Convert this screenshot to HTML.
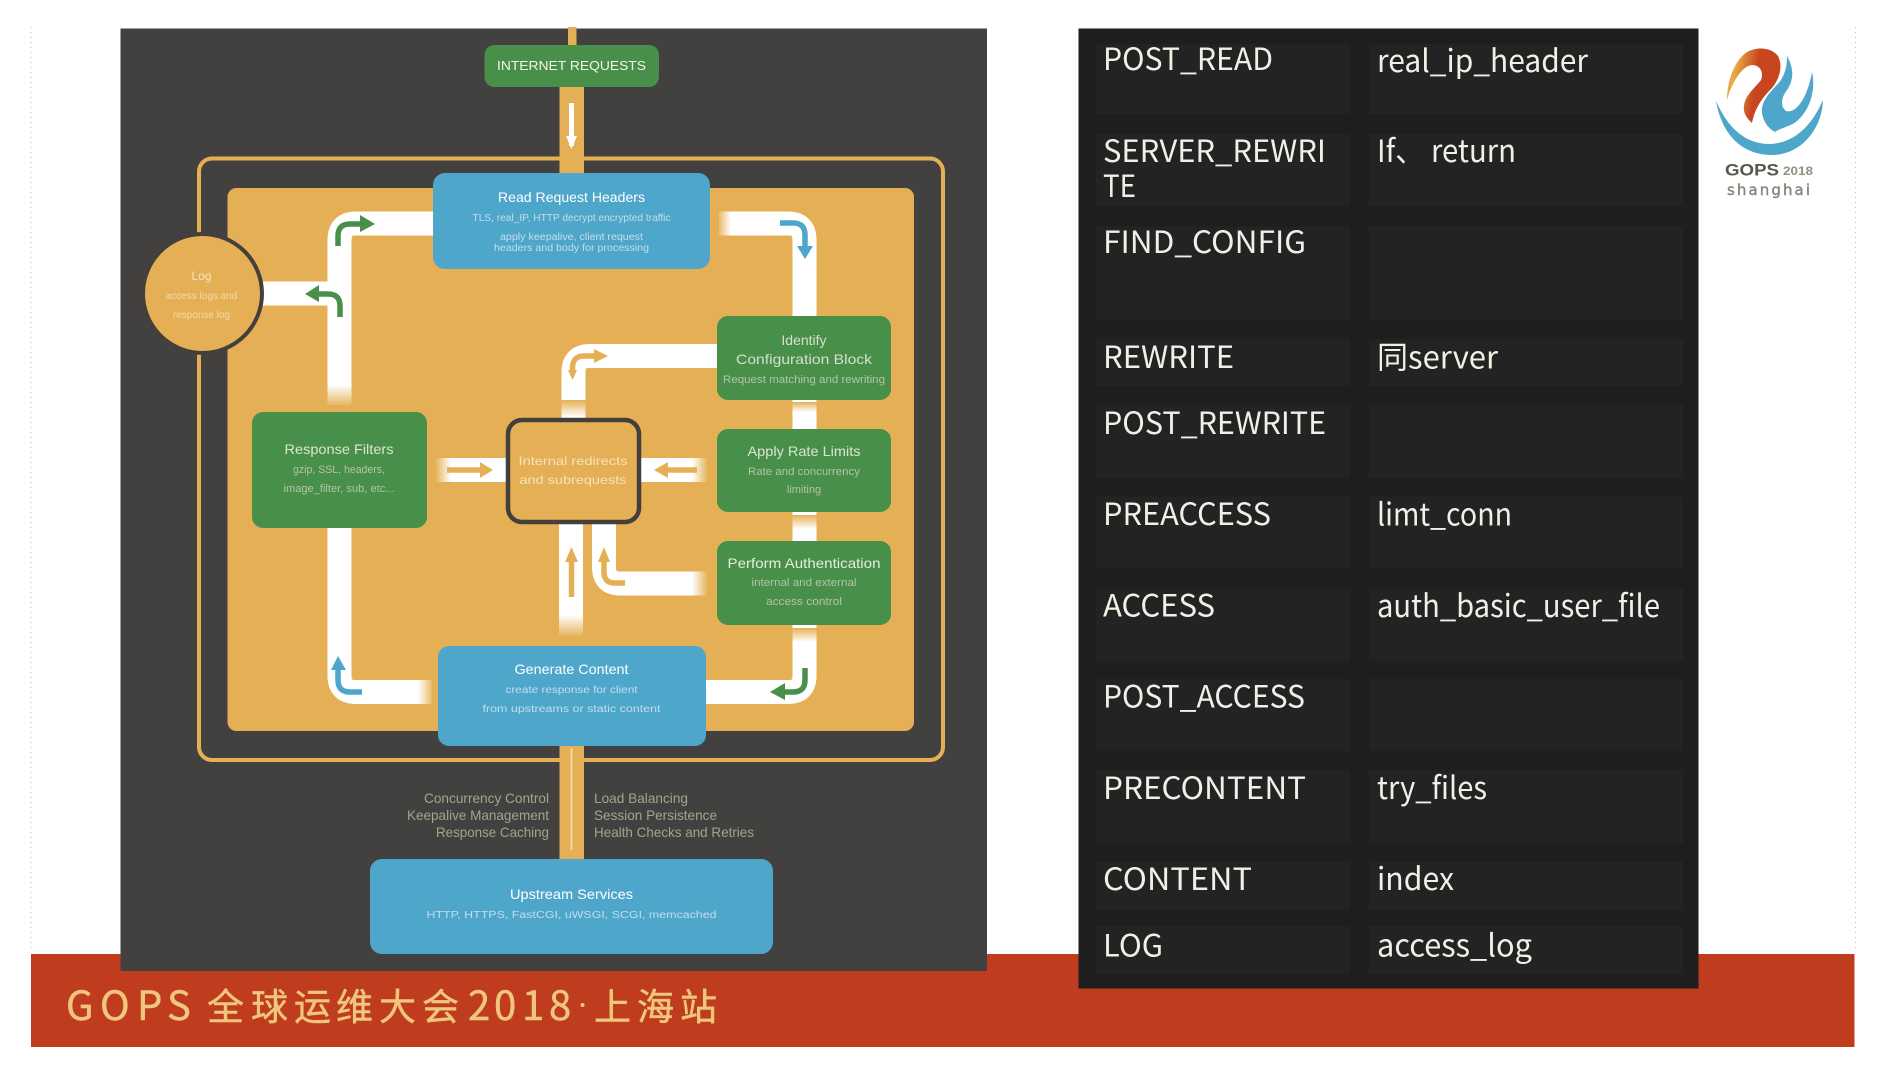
<!DOCTYPE html>
<html><head><meta charset="utf-8"><style>
html,body{margin:0;padding:0;background:#fff;width:1886px;height:1072px;overflow:hidden}
svg{display:block}
.s{font-family:"Liberation Sans",sans-serif;text-anchor:middle}
.h{font-size:14px;fill:#fff}
.g{font-size:11px;fill:#b3c4a6}
.b{font-size:10px;fill:#dcecf2;fill-opacity:.8}
.t{font-family:"Noto Sans CJK SC","Liberation Sans",sans-serif;font-size:31px;fill:#eef1e6}
.w{fill:none;stroke:#fff;stroke-width:24}
.a{fill:none;stroke-width:5.500}
.side{font-family:"Liberation Sans",sans-serif;font-size:14px;fill:#a2a58b}
.ti{font-family:"Noto Sans CJK SC","Liberation Sans",sans-serif;fill:#efc67c;stroke:#efc67c;stroke-width:.5}
</style></head><body>
<svg width="1886" height="1072" viewBox="0 0 1886 1072" xmlns="http://www.w3.org/2000/svg">
<defs>
<linearGradient id="fd" x1="0" y1="0" x2="0" y2="1"><stop offset="0" stop-color="#e5b055" stop-opacity="0"/><stop offset="1" stop-color="#e5b055"/></linearGradient>
<linearGradient id="fu" x1="0" y1="1" x2="0" y2="0"><stop offset="0" stop-color="#e5b055" stop-opacity="0"/><stop offset="1" stop-color="#e5b055"/></linearGradient>
<linearGradient id="fr" x1="0" y1="0" x2="1" y2="0"><stop offset="0" stop-color="#e5b055" stop-opacity="0"/><stop offset="1" stop-color="#e5b055"/></linearGradient>
<linearGradient id="fl" x1="1" y1="0" x2="0" y2="0"><stop offset="0" stop-color="#e5b055" stop-opacity="0"/><stop offset="1" stop-color="#e5b055"/></linearGradient>
<linearGradient id="fl2" x1="0" y1="0" x2="1" y2="0.2"><stop offset="0.2" stop-color="#e8a845"/><stop offset="0.6" stop-color="#c8451f"/></linearGradient>
</defs>
<rect width="1886" height="1072" fill="#fff"/>
<path d="M31 27V952M1855.5 27V952" stroke="#bbb" stroke-width="1" stroke-dasharray="1 4" fill="none"/>
<rect x="31" y="954" width="1823.500" height="93" fill="#bf3d1e"/>
<rect x="120.500" y="28.500" width="866.500" height="942.500" fill="#434140"/>
<rect x="199" y="158.500" width="744" height="601.500" rx="13" fill="none" stroke="#e5b055" stroke-width="4"/>
<rect x="227.500" y="188" width="686.500" height="543" rx="9" fill="#e5b055"/>
<rect x="568" y="27" width="8.500" height="18" fill="#e5b055"/>
<rect x="559.500" y="87" width="24.500" height="86" fill="#e5b055"/>
<path d="M571.500 103V146" stroke="#fff" stroke-width="5" fill="none"/><path d="M566 136H577L571.500 149Z" fill="#fff"/>
<rect x="559.500" y="745" width="24.500" height="115" fill="#e5b055"/>
<path d="M571.500 748V850" stroke="#f3d9a8" stroke-width="2" fill="none"/>
<g class="w">
<path d="M433 223.500H356Q339.500 223.500 339.500 240V405"/>
<path d="M262 293.500H325Q339.500 293.500 339.500 308V340"/>
<path d="M719 223.500H788Q804.500 223.500 804.500 240V316"/>
<path d="M717 356H590Q573.500 356 573.500 372V419"/>
<path d="M804.500 400V429"/>
<path d="M804.500 512V541"/>
<path d="M804.500 625V676Q804.500 692 788 692H706"/>
<path d="M339.500 528V676Q339.500 692 356 692H432"/>
<path d="M436 470H506"/>
<path d="M641 470H707"/>
<path d="M571 523V636"/>
<path d="M604 523V567Q604 583.500 620 583.500H707"/>
</g>
<rect x="322" y="385" width="35" height="22" fill="url(#fd)"/>
<rect x="556" y="615" width="30" height="22" fill="url(#fd)"/>
<rect x="556" y="400" width="34" height="17" fill="url(#fu)"/>
<rect x="788" y="515" width="34" height="14" fill="url(#fu)"/>
<rect x="788" y="628" width="34" height="14" fill="url(#fu)"/>
<rect x="788" y="402" width="34" height="10" fill="url(#fu)"/>
<rect x="717" y="208" width="14" height="32" fill="url(#fl)"/>
<rect x="418" y="676" width="16" height="32" fill="url(#fr)"/>
<rect x="692" y="567" width="16" height="34" fill="url(#fr)"/>
<rect x="435" y="454" width="16" height="32" fill="url(#fl)"/>
<rect x="692" y="454" width="16" height="32" fill="url(#fr)"/>
<circle cx="202.500" cy="293.500" r="59.500" fill="#e5b055" stroke="#433f3d" stroke-width="4"/>
<rect x="484.500" y="45" width="174.500" height="42" rx="10" fill="#488f4a"/>
<rect x="433" y="173" width="277" height="96" rx="12" fill="#4fa6cb"/>
<rect x="717" y="316" width="174" height="84" rx="11" fill="#488f4a"/>
<rect x="717" y="429" width="174" height="83" rx="11" fill="#488f4a"/>
<rect x="717" y="541" width="174" height="84" rx="11" fill="#488f4a"/>
<rect x="252" y="412" width="175" height="116" rx="11" fill="#488f4a"/>
<rect x="438" y="646" width="268" height="100" rx="11" fill="#4fa6cb"/>
<rect x="370" y="859" width="403" height="95" rx="12" fill="#4fa6cb"/>
<rect x="508" y="420" width="131" height="102" rx="14" fill="none" stroke="#433f3d" stroke-width="4.500"/>
<path class="a" stroke="#488f4a" d="M338 246V236Q338 224 350 224H362"/><path d="M360 215L375 224L360 232Z" fill="#488f4a"/>
<path class="a" stroke="#488f4a" d="M340 317V306Q340 294 328 294H318"/><path d="M319 285L305 294L319 302Z" fill="#488f4a"/>
<path class="a" stroke="#4fa6cb" d="M780 223H793Q805 223 805 235V248"/><path d="M797 246H813L805 259Z" fill="#4fa6cb"/>
<path class="a" stroke="#e5b055" d="M572.500 372V368Q572.500 356 584 356H596"/><path d="M568 370L577 370L572.500 380ZM594 349L608 356L594 363Z" fill="#e5b055"/>
<path class="a" stroke="#e5b055" d="M447 470H482"/><path d="M480 462L493 470L480 478Z" fill="#e5b055"/>
<path class="a" stroke="#e5b055" d="M697 470H666"/><path d="M668 462L654 470L668 478Z" fill="#e5b055"/>
<path class="a" stroke="#e5b055" d="M571.500 597V560"/><path d="M565 562L571.500 547L578 562Z" fill="#e5b055"/>
<path class="a" stroke="#e5b055" d="M625 583H615Q604 583 604 572V560"/><path d="M598 562L604 547L610 562Z" fill="#e5b055"/>
<path class="a" stroke="#4fa6cb" d="M362 692H350Q338 692 338 680V668"/><path d="M331 670L338 656L346 670Z" fill="#4fa6cb"/>
<path class="a" stroke="#488f4a" d="M805 668V680Q805 692 793 692H783"/><path d="M785 683L770 692L785 700Z" fill="#488f4a"/>
<g class="s">
<text x="571.500" y="70" font-size="13" fill="#f2f5ee" textLength="149" lengthAdjust="spacingAndGlyphs">INTERNET REQUESTS</text>
<text x="571.500" y="202" class="h" textLength="147" lengthAdjust="spacingAndGlyphs">Read Request Headers</text>
<text x="571.500" y="221" class="b" textLength="198" lengthAdjust="spacingAndGlyphs">TLS, real_IP, HTTP decrypt encrypted traffic</text>
<text x="571.500" y="240" class="b" textLength="143" lengthAdjust="spacingAndGlyphs">apply keepalive, client request</text>
<text x="571.500" y="251" class="b" textLength="155" lengthAdjust="spacingAndGlyphs">headers and body for processing</text>
<text x="201.500" y="280" font-size="12" fill="#f4e3bd">Log</text>
<text x="201.500" y="299" font-size="10" fill="#f4e3bd" fill-opacity=".8">access logs and</text>
<text x="201.500" y="318" font-size="10" fill="#f4e3bd" fill-opacity=".8">response log</text>
<text x="804" y="345" class="h" style="fill:#d5e0cc">Identify</text>
<text x="804" y="364" class="h" style="fill:#d5e0cc" textLength="136" lengthAdjust="spacingAndGlyphs">Configuration Block</text>
<text x="804" y="383" class="g" textLength="162" lengthAdjust="spacingAndGlyphs">Request matching and rewriting</text>
<text x="804" y="456" class="h" style="fill:#dbe5d3" textLength="113" lengthAdjust="spacingAndGlyphs">Apply Rate Limits</text>
<text x="804" y="475" class="g" textLength="112" lengthAdjust="spacingAndGlyphs">Rate and concurrency</text>
<text x="804" y="493" class="g">limiting</text>
<text x="804" y="568" class="h" style="fill:#e6eddf" textLength="153" lengthAdjust="spacingAndGlyphs">Perform Authentication</text>
<text x="804" y="586" class="g" textLength="105" lengthAdjust="spacingAndGlyphs">internal and external</text>
<text x="804" y="605" class="g" textLength="76" lengthAdjust="spacingAndGlyphs">access control</text>
<text x="339" y="454" class="h" style="fill:#dbe5d3" textLength="109" lengthAdjust="spacingAndGlyphs">Response Filters</text>
<text x="339" y="473" class="g" textLength="92" lengthAdjust="spacingAndGlyphs">gzip, SSL, headers,</text>
<text x="339" y="492" class="g" textLength="111" lengthAdjust="spacingAndGlyphs">image_filter, sub, etc...</text>
<text x="573" y="465" font-size="12" fill="#f4e3bd" textLength="109" lengthAdjust="spacingAndGlyphs">Internal redirects</text>
<text x="573" y="484" font-size="12" fill="#f4e3bd" textLength="107" lengthAdjust="spacingAndGlyphs">and subrequests</text>
<text x="571.500" y="674" class="h" textLength="114" lengthAdjust="spacingAndGlyphs">Generate Content</text>
<text x="571.500" y="693" class="b" textLength="132" lengthAdjust="spacingAndGlyphs">create response for client</text>
<text x="571.500" y="712" class="b" textLength="178" lengthAdjust="spacingAndGlyphs">from upstreams or static content</text>
<text x="571.500" y="899" class="h" textLength="123" lengthAdjust="spacingAndGlyphs">Upstream Services</text>
<text x="571.500" y="918" class="b" textLength="290" lengthAdjust="spacingAndGlyphs">HTTP, HTTPS, FastCGI, uWSGI, SCGI, memcached</text>
</g>
<g class="side" text-anchor="end">
<text x="549" y="803" textLength="125" lengthAdjust="spacingAndGlyphs">Concurrency Control</text>
<text x="549" y="820" textLength="142" lengthAdjust="spacingAndGlyphs">Keepalive Management</text>
<text x="549" y="837" textLength="113" lengthAdjust="spacingAndGlyphs">Response Caching</text>
</g>
<g class="side">
<text x="594" y="803" textLength="94" lengthAdjust="spacingAndGlyphs">Load Balancing</text>
<text x="594" y="820" textLength="123" lengthAdjust="spacingAndGlyphs">Session Persistence</text>
<text x="594" y="837" textLength="160" lengthAdjust="spacingAndGlyphs">Health Checks and Retries</text>
</g>
<text class="ti" y="1020" font-size="40" x="66 100 137 167">GOPS</text>
<text class="ti" y="1020" font-size="37" x="207 251 294 336 379 422">全球运维大会</text>
<text class="ti" y="1020" font-size="40" x="468 494 522 549">2018</text>
<circle cx="582.500" cy="1005" r="2" fill="#efc67c"/>
<text class="ti" y="1020" font-size="37" x="594 637 680">上海站</text>
<rect x="1078.500" y="28.500" width="620" height="960" fill="#1f1d1e"/>
<g fill="#242223">
<rect x="1096" y="44" width="254" height="70"/><rect x="1369" y="44" width="314" height="70"/>
<rect x="1096" y="134" width="254" height="71.500"/><rect x="1369" y="134" width="314" height="71.500"/>
<rect x="1096" y="226.500" width="254" height="93.500"/><rect x="1369" y="226.500" width="314" height="93.500"/>
<rect x="1096" y="339" width="254" height="47"/><rect x="1369" y="339" width="314" height="47"/>
<rect x="1096" y="405" width="254" height="73"/><rect x="1369" y="405" width="314" height="73"/>
<rect x="1096" y="496.500" width="254" height="72"/><rect x="1369" y="496.500" width="314" height="72"/>
<rect x="1096" y="589" width="254" height="72"/><rect x="1369" y="589" width="314" height="72"/>
<rect x="1096" y="679" width="254" height="72"/><rect x="1369" y="679" width="314" height="72"/>
<rect x="1096" y="770" width="254" height="73"/><rect x="1369" y="770" width="314" height="73"/>
<rect x="1096" y="861.500" width="254" height="48.500"/><rect x="1369" y="861.500" width="314" height="48.500"/>
<rect x="1096" y="926" width="254" height="48"/><rect x="1369" y="926" width="314" height="48"/>
</g>
<g class="t">
<text x="1103" y="70" textLength="170" lengthAdjust="spacingAndGlyphs">POST_READ</text>
<text x="1377" y="72" textLength="211" lengthAdjust="spacingAndGlyphs">real_ip_header</text>
<text x="1103" y="162" textLength="223" lengthAdjust="spacingAndGlyphs">SERVER_REWRI</text>
<text x="1103" y="197" textLength="33" lengthAdjust="spacingAndGlyphs">TE</text>
<text x="1377" y="162" textLength="139" lengthAdjust="spacingAndGlyphs">If、 return</text>
<text x="1103" y="253" textLength="203" lengthAdjust="spacingAndGlyphs">FIND_CONFIG</text>
<text x="1103" y="368" textLength="131" lengthAdjust="spacingAndGlyphs">REWRITE</text>
<text x="1377" y="368.500" textLength="121" lengthAdjust="spacingAndGlyphs">同server</text>
<text x="1103" y="434" textLength="223" lengthAdjust="spacingAndGlyphs">POST_REWRITE</text>
<text x="1103" y="525" textLength="168" lengthAdjust="spacingAndGlyphs">PREACCESS</text>
<text x="1377" y="525.500" textLength="135" lengthAdjust="spacingAndGlyphs">limt_conn</text>
<text x="1103" y="616.500" textLength="112" lengthAdjust="spacingAndGlyphs">ACCESS</text>
<text x="1377" y="617" textLength="283" lengthAdjust="spacingAndGlyphs">auth_basic_user_file</text>
<text x="1103" y="707.500" textLength="202" lengthAdjust="spacingAndGlyphs">POST_ACCESS</text>
<text x="1103" y="799" textLength="203" lengthAdjust="spacingAndGlyphs">PRECONTENT</text>
<text x="1377" y="799" textLength="110" lengthAdjust="spacingAndGlyphs">try_files</text>
<text x="1103" y="890" textLength="149" lengthAdjust="spacingAndGlyphs">CONTENT</text>
<text x="1377" y="890" textLength="77" lengthAdjust="spacingAndGlyphs">index</text>
<text x="1103" y="956.500" textLength="60" lengthAdjust="spacingAndGlyphs">LOG</text>
<text x="1377" y="956.500" textLength="155" lengthAdjust="spacingAndGlyphs">access_log</text>
</g>
<path d="M1716 101C1722 135 1742 155 1772 155C1800 155 1822 130 1823 100C1812 125 1795 143 1770 144C1745 144 1728 128 1716 101Z" fill="#4fa6cb"/>
<path d="M1727 100C1727 80 1735 60 1747 52C1758 46 1772 48 1778 56C1783 66 1780 78 1772 88C1762 98 1755 108 1752 123C1746 118 1743 112 1744 106C1745 95 1755 88 1761 80C1764 72 1760 65 1752 65C1742 66 1732 82 1727 100Z" fill="url(#fl2)"/>
<path d="M1787 56C1794 68 1794 80 1787 90C1781 98 1780 106 1786 111C1795 114 1807 100 1812 72C1816 90 1810 110 1797 121C1790 127 1782 127 1775 132C1767 128 1761 118 1762 108C1764 96 1775 88 1781 80C1786 72 1787 64 1787 56Z" fill="#4fa6cb"/>
<text x="1725" y="175.500" font-family="'Liberation Sans',sans-serif" font-weight="bold" font-size="17" fill="#55584c" textLength="54" lengthAdjust="spacingAndGlyphs">GOPS</text>
<text x="1783" y="175" font-family="'Liberation Sans',sans-serif" font-weight="bold" font-size="12" fill="#8f927e" textLength="30" lengthAdjust="spacingAndGlyphs">2018</text>
<text x="1727" y="195" font-family="'DejaVu Sans',sans-serif" font-size="15" fill="#85887a" stroke="#85887a" stroke-width=".4" textLength="83" lengthAdjust="spacing">shanghai</text>
</svg>
</body></html>
